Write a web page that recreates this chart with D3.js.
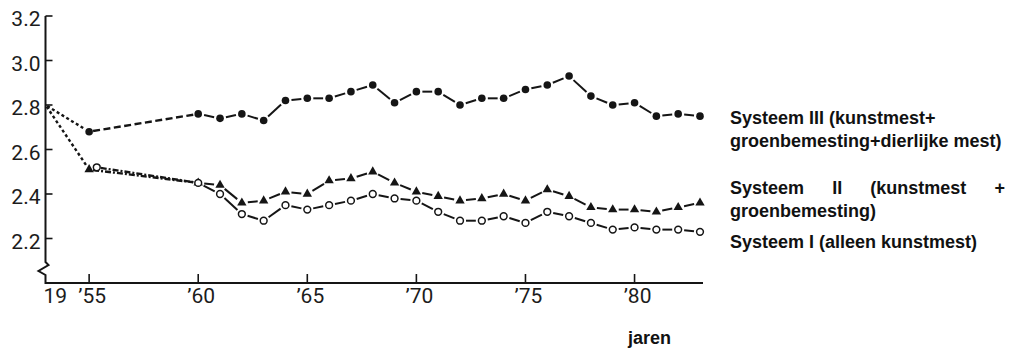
<!DOCTYPE html>
<html>
<head>
<meta charset="utf-8">
<script src="https://cdn.jsdelivr.net/npm/d3@7"></script>
<style>
  body { margin: 0; background: #fff; }
  .tick-label { font-family: Roboto, 'Liberation Sans', sans-serif; font-weight: 400; font-size: 21px; fill: #1c1c1c; }
  .legend { font-family: 'Liberation Sans', Arial, sans-serif; font-weight: bold; font-size: 18px; fill: #111; }
</style>
</head>
<body>
<div id="chart"></div>
<script>
// data
const jaren = [1953, 1955, 1960, 1961, 1962, 1963, 1964, 1965, 1966, 1967, 1968, 1969, 1970,
               1971, 1972, 1973, 1974, 1975, 1976, 1977, 1978, 1979, 1980, 1981, 1982, 1983];
// systeem I: the 1955 circle sits just right of the triangle
const jarenSysteemI = [1953, 1955.35, 1960, 1961, 1962, 1963, 1964, 1965, 1966, 1967, 1968, 1969, 1970,
                       1971, 1972, 1973, 1974, 1975, 1976, 1977, 1978, 1979, 1980, 1981, 1982, 1983];
const systeemIII = [2.80, 2.68, 2.76, 2.74, 2.76, 2.73, 2.82, 2.83, 2.83, 2.86, 2.89, 2.81, 2.86,
                    2.86, 2.80, 2.83, 2.83, 2.87, 2.89, 2.93, 2.84, 2.80, 2.81, 2.75, 2.76, 2.75];
const systeemII = [2.80, 2.51, 2.45, 2.44, 2.36, 2.37, 2.41, 2.40, 2.46, 2.47, 2.50, 2.45, 2.41,
                   2.39, 2.37, 2.38, 2.40, 2.37, 2.42, 2.39, 2.34, 2.33, 2.33, 2.32, 2.34, 2.36];
const systeemI = [2.80, 2.52, 2.45, 2.40, 2.31, 2.28, 2.35, 2.33, 2.35, 2.37, 2.40, 2.38, 2.37,
                  2.32, 2.28, 2.28, 2.30, 2.27, 2.32, 2.30, 2.27, 2.24, 2.25, 2.24, 2.24, 2.23];

const yTicks = [2.2, 2.4, 2.6, 2.8, 3.0, 3.2];
const xTicks = [1955, 1960, 1965, 1970, 1975, 1980];
const xTickLabels = ['\u201955', '\u201960', '\u201965', '\u201970', '\u201975', '\u201980'];
const eeuwLabel = '19';
const xTitle = 'jaren';

const legendIII = ['Systeem III (kunstmest+', 'groenbemesting+dierlijke mest)'];
const legendII = [['Systeem', 'II', '(kunstmest', '+'], ['groenbemesting)']];
const legendI = ['Systeem I (alleen kunstmest)'];

const width = 1012, height = 348;

const svg = d3.select('#chart')
  .append('svg')
  .attr('width', width)
  .attr('height', height);

const x = d3.scaleLinear().domain([1953, 1983]).range([45.5, 700]);
const y = d3.scaleLinear().domain([2.0, 3.2]).range([283, 16]);

const ink = '#151515';

// AXES ////////////////////////

const x0 = x(1953);
const yBreak = 262;

svg.append('path')
  .attr('d', `M${x0},${y(3.2)} V${yBreak} L${x0 + 3},${yBreak + 3} L${x0 - 7},${yBreak + 9} L${x0},${yBreak + 13} V${y(2.0)} H${x(1983) + 3}`)
  .attr('fill', 'none')
  .attr('stroke', ink)
  .attr('stroke-width', 2);

svg.selectAll('.ytick')
  .data(yTicks)
  .enter()
  .append('line')
  .attr('class', 'ytick')
  .attr('x1', x0)
  .attr('x2', x0 + 7)
  .attr('y1', d => y(d))
  .attr('y2', d => y(d))
  .attr('stroke', ink)
  .attr('stroke-width', 1.6);

svg.selectAll('.ylabel')
  .data(yTicks)
  .enter()
  .append('text')
  .attr('class', 'tick-label')
  .attr('x', x0 - 5)
  .attr('y', d => y(d) + 10)
  .attr('text-anchor', 'end')
  .text(d => d.toFixed(1));

svg.selectAll('.xtick')
  .data(xTicks)
  .enter()
  .append('line')
  .attr('x1', d => x(d))
  .attr('x2', d => x(d))
  .attr('y1', y(2.0))
  .attr('y2', y(2.0) - 9)
  .attr('stroke', ink)
  .attr('stroke-width', 1.6);

svg.selectAll('.xlabel')
  .data(xTicks)
  .enter()
  .append('text')
  .attr('class', 'tick-label')
  .attr('x', d => x(d) + 3)
  .attr('y', 303)
  .attr('text-anchor', 'middle')
  .text((d, i) => xTickLabels[i]);

svg.append('text')
  .attr('class', 'tick-label')
  .attr('x', x0 - 2)
  .attr('y', 303)
  .text(eeuwLabel);

svg.append('text')
  .attr('class', 'legend')
  .attr('x', 628)
  .attr('y', 344)
  .text(xTitle);

// SERIES ////////////////////////

// systeem I shares its first two dotted stretches with systeem II, so it skips them
const series = [
  {name: 'III', xs: jaren, ys: systeemIII, marker: 'dot', early: '7,3.5', skip: 0},
  {name: 'II', xs: jaren, ys: systeemII, marker: 'triangle', early: '6,2,2,2', skip: 0},
  {name: 'I', xs: jarenSysteemI, ys: systeemI, marker: 'open', early: '6,2,2,2', skip: 1}
];

const trim = (p0, p1, t0, t1) => {
  const dx = p1[0] - p0[0], dy = p1[1] - p0[1];
  const len = Math.hypot(dx, dy);
  const ux = dx / len, uy = dy / len;
  return [p0[0] + ux * t0, p0[1] + uy * t0, p1[0] - ux * t1, p1[1] - uy * t1];
};

series.forEach(s => {
  const pts = s.xs.map((d, i) => [x(d), y(s.ys[i])]);
  const g = svg.append('g').attr('class', `serie_${s.name}`);

  for (let i = s.skip; i < pts.length - 1; i++) {
    let seg, dash, w;
    if (i === 0) {
      seg = trim(pts[i], pts[i + 1], 2, 5);
      dash = '3,2.6';
      w = 2.4;
    } else if (i === 1) {
      seg = trim(pts[i], pts[i + 1], 4, 5);
      dash = s.early;
      w = 2.4;
    } else {
      seg = trim(pts[i], pts[i + 1], 6, 6);
      dash = null;
      w = 2;
    }
    g.append('line')
      .attr('x1', seg[0]).attr('y1', seg[1])
      .attr('x2', seg[2]).attr('y2', seg[3])
      .attr('stroke', ink)
      .attr('stroke-width', w)
      .attr('stroke-dasharray', dash);
  }

  const markerPts = pts.slice(1);
  if (s.marker === 'dot') {
    g.selectAll('circle').data(markerPts).enter().append('circle')
      .attr('cx', d => d[0]).attr('cy', d => d[1]).attr('r', 3.8)
      .attr('fill', ink);
  } else if (s.marker === 'triangle') {
    g.selectAll('path.m').data(markerPts).enter().append('path')
      .attr('class', 'm')
      .attr('d', d3.symbol(d3.symbolTriangle).size(38))
      .attr('transform', d => `translate(${d[0]},${d[1]})`)
      .attr('fill', ink);
  } else {
    g.selectAll('circle').data(markerPts).enter().append('circle')
      .attr('cx', d => d[0]).attr('cy', d => d[1]).attr('r', 3.4)
      .attr('fill', '#fff')
      .attr('stroke', ink)
      .attr('stroke-width', 1.5);
  }
});

// LEGEND ////////////////////////

const lx = 730, lRight = 1005;

svg.selectAll('.legIII').data(legendIII).enter().append('text')
  .attr('class', 'legend')
  .attr('x', lx)
  .attr('y', (d, i) => 124 + i * 23)
  .text(d => d);

// first line of systeem II is justified over the full legend width
const wordsII = legendII[0];
const tmp = wordsII.map(w => svg.append('text').attr('class', 'legend').attr('y', 194).text(w));
const widths = tmp.map(t => t.node().getComputedTextLength());
const gap = (lRight - lx - d3.sum(widths)) / (wordsII.length - 1);
let cx = lx;
tmp.forEach((t, i) => {
  t.attr('x', cx);
  cx += widths[i] + gap;
});

svg.append('text')
  .attr('class', 'legend')
  .attr('x', lx)
  .attr('y', 217)
  .text(legendII[1][0]);

svg.selectAll('.legI').data(legendI).enter().append('text')
  .attr('class', 'legend')
  .attr('x', lx)
  .attr('y', 248)
  .text(d => d);
</script>
</body>
</html>
